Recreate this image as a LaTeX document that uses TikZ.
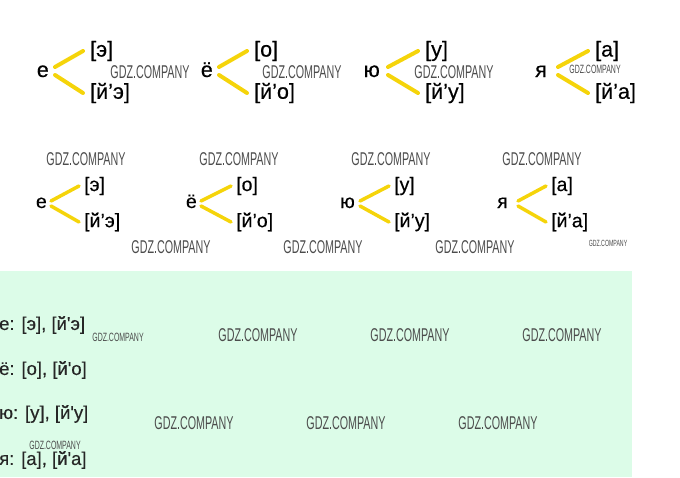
\documentclass[tikz,border=0pt]{standalone}
\usepackage{fontspec}
\setmainfont{Liberation Sans}[FakeBold=0.3]
\newfontfamily\wmfont[FakeStretch=0.58]{Liberation Sans}
\usepackage{tikz}
\definecolor{vowelline}{RGB}{245,212,10}
\definecolor{mint}{HTML}{DCFCE8}

\begin{document}
\begin{tikzpicture}
      [x=1pt,y=-1pt,every node/.style={inner sep=0pt},
       vline/.style={draw=vowelline,line width=4pt,line cap=round},
       big/.style={font=\fontsize{21.5}{21.5}\selectfont},
       mid/.style={font=\fontsize{19.5}{19.5}\selectfont},
       plain/.style={font=\fontsize{18.5}{18.5}\selectfont,text=black!85},
       wm/.style={font=\wmfont\fontsize{18.5}{18.5}\selectfont,text=black!70}]

      \tikzstyle{wmsmall} = [wm,font=\wmfont\fontsize{12}{12}\selectfont]

      \useasboundingbox (0,0) rectangle (680,477);
      \fill[mint] (0,271) rectangle (632,477);

      % first row
      \foreach \n/\lx/\xs/\bx/\l/\v in {e/49/55/90/е/э, yo/213/219/254/ё/о,
            yu/380/388/425/ю/у, ya/547/558/595/я/а} {
        \node[big,anchor=base east] (\n) at (\lx,77) {\l};
        \node[big,anchor=west] (\n1) at (\bx,51) {[\v]};
        \node[big,anchor=west] (\n2) at (\bx,93) {[й’\v]};
        \draw[vline] ([shift={(\xs-\lx,-10)}]\n.base east) -- ([xshift=-7pt]\n1.west)
                     ([shift={(\xs-\lx,-2)}]\n.base east) -- ([xshift=-7pt]\n2.west);
      }

      % second row
      \foreach \n/\lx/\xs/\bx/\l/\v in {e/47/51/84/е/э, yo/197/201/236/ё/о,
            yu/355/360/394/ю/у, ya/508/518/551/я/а} {
        \node[mid,anchor=base east] (s\n) at (\lx,208) {\l};
        \node[mid,anchor=west] (s\n1) at (\bx,186) {[\v]};
        \node[mid,anchor=west] (s\n2) at (\bx,222) {[й’\v]};
        \draw[vline,line width=3.5pt]
              ([shift={(\xs-\lx,-7)}]s\n.base east) -- ([xshift=-5pt]s\n1.west)
              ([shift={(\xs-\lx,-2)}]s\n.base east) -- ([xshift=-5pt]s\n2.west);
      }

      % list
      \node[plain,anchor=west] (le)  at (-1,325) {е: [э], [й\textquotesingle э]};
      \node[plain,anchor=west] (lyo) at (-1,370) {ё: [о], [й\textquotesingle о]};
      \node[plain,anchor=west] (lyu) at (-1,414) {ю: [у], [й\textquotesingle у]};
      \node[plain,anchor=west] (lya) at (-1,460) {я: [а], [й\textquotesingle а]};

      % watermarks
      \foreach \x/\y [count=\i] in {150/72, 302/72, 454/72, 86/159, 239/159,
            391/159, 542/159, 171/247, 323/247, 475/247, 258/335, 410/335,
            562/335, 194/423, 346/423, 498/423}
        \node[wm] (wm\i) at (\x,\y) {GDZ.COMPANY};
      \node[wmsmall] (wmya) at (595,69) {GDZ.COMPANY};
      \node[wmsmall] (wmle) at (118,337) {GDZ.COMPANY};
      \node[wmsmall] (wmlya) at (55,445) {GDZ.COMPANY};
      \node[wmsmall,font=\wmfont\fontsize{9}{9}\selectfont] (wmsya) at (608,243) {GDZ.COMPANY};
\end{tikzpicture}
\end{document}
